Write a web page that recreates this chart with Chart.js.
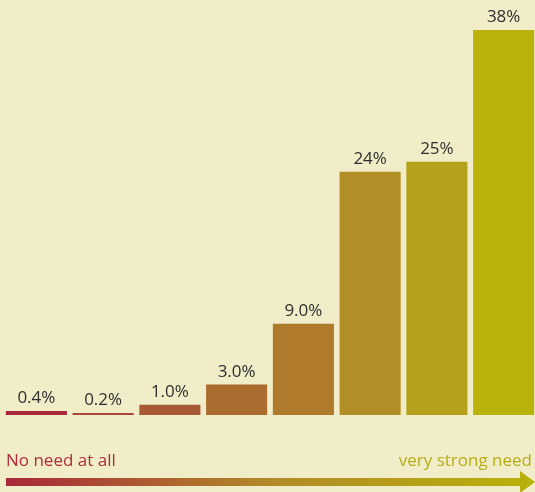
<!DOCTYPE html>
<html>
<head>
<meta charset="utf-8">
<script src="https://cdn.jsdelivr.net/npm/chart.js@4/dist/chart.umd.min.js"></script>
<style>
  html, body { margin: 0; padding: 0; background: #f0edc8; overflow: hidden; }
  #wrap { position: relative; width: 537px; height: 492px; }
</style>
</head>
<body>
<div id="wrap"><canvas id="needChart"></canvas></div>
<script>
const categories = ["1", "2", "3", "4", "5", "6", "7", "8"];
const shares = [0.4, 0.2, 1.0, 3.0, 9.0, 24, 25, 38];
const shareLabels = ["0.4%", "0.2%", "1.0%", "3.0%", "9.0%", "24%", "25%", "38%"];
const barColors = ["#a8283a", "#a84738", "#a85a35", "#aa6c2f", "#af7a2c", "#b28e27", "#b5a01b", "#b9b20a"];

const FONT = "'Open Sans', 'Noto Sans', sans-serif";

// value labels above each bar
const valueLabels = {
  id: "valueLabels",
  afterDatasetsDraw(chart) {
    const { ctx } = chart;
    const meta = chart.getDatasetMeta(0);
    ctx.save();
    ctx.font = "17px " + FONT;
    ctx.fillStyle = "#2e2e2e";
    ctx.textAlign = "center";
    ctx.textBaseline = "alphabetic";
    meta.data.forEach((bar, i) => {
      ctx.fillText(shareLabels[i], bar.x, bar.y - 8);
    });
    ctx.restore();
  }
};

// scale arrow under the bars
const needArrow = {
  id: "needArrow",
  afterDraw(chart) {
    const { ctx } = chart;
    const y = 482;
    ctx.save();
    const grad = ctx.createLinearGradient(6, 0, 534, 0);
    grad.addColorStop(0, "#a8283a");
    grad.addColorStop(0.5, "#b28a28");
    grad.addColorStop(1, "#b9b20a");
    ctx.fillStyle = grad;
    ctx.fillRect(6, y - 4, 516, 8);
    ctx.beginPath();
    ctx.moveTo(520, y - 11);
    ctx.lineTo(535, y);
    ctx.lineTo(520, y + 11);
    ctx.closePath();
    ctx.fill();

    ctx.font = "17px " + FONT;
    ctx.textBaseline = "alphabetic";
    ctx.textAlign = "left";
    ctx.fillStyle = "#b02c3c";
    ctx.fillText("No need at all", 6, 466);
    ctx.textAlign = "right";
    ctx.fillStyle = "#b6ae18";
    ctx.fillText("very strong need", 532, 466);
    ctx.restore();
  }
};

new Chart(document.getElementById("needChart"), {
  type: "bar",
  data: {
    labels: categories,
    datasets: [{
      data: shares,
      backgroundColor: barColors,
      borderWidth: 0,
      barPercentage: 0.915,
      categoryPercentage: 1.0
    }]
  },
  options: {
    responsive: true,
    maintainAspectRatio: false,
    animation: false,
    layout: { padding: { left: 3, right: 0, top: 30, bottom: 77 } },
    scales: {
      x: { display: false },
      y: { display: false, min: 0, max: 38 }
    },
    plugins: {
      legend: { display: false },
      tooltip: { enabled: false }
    }
  },
  plugins: [valueLabels, needArrow]
});
</script>
</body>
</html>
